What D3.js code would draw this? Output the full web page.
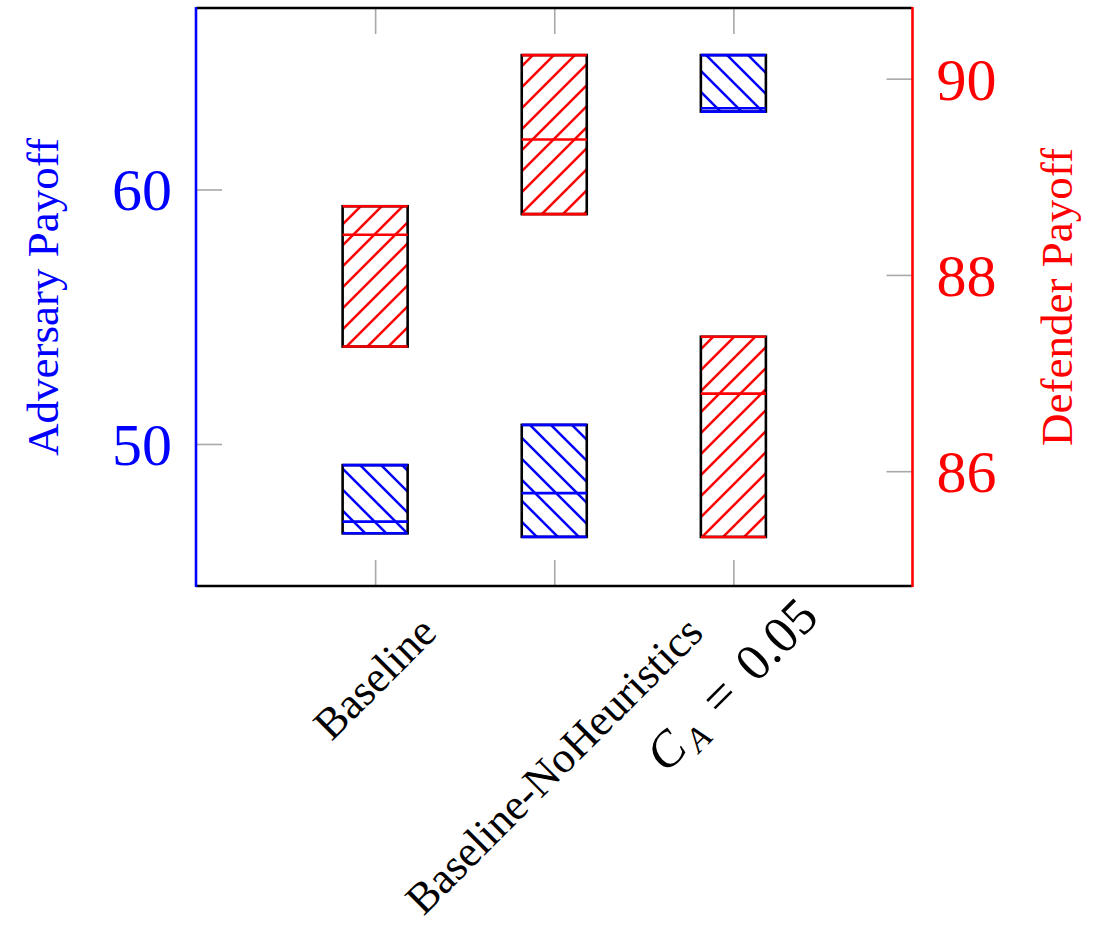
<!DOCTYPE html>
<html>
<head>
<meta charset="utf-8">
<script src="https://cdn.jsdelivr.net/npm/d3@7/dist/d3.min.js"></script>
<style>
  body { margin: 0; background: #fff; }
  svg { display: block; }
</style>
</head>
<body>
<svg id="chart" width="1102" height="928"></svg>
<script>
// Categories along the x axis
const categories = ["Baseline", "Baseline-NoHeuristics", "C_A = 0.05"];

// Adversary payoff boxes (left axis): lower edge, median, upper edge
const adversaryLow    = [46.49, 46.35, 63.06];
const adversaryMedian = [46.95, 48.07, 63.19];
const adversaryHigh   = [49.17, 50.75, 65.28];

// Defender payoff boxes (right axis): lower edge, median, upper edge
const defenderLow    = [87.27, 88.62, 85.33];
const defenderMedian = [88.41, 89.38, 86.79];
const defenderHigh   = [88.70, 90.24, 87.37];

// Axis ranges and tick labels
const adversaryDomain = [44.42, 67.13];
const defenderDomain  = [84.83, 90.72];
const adversaryTicks  = [50, 60];
const defenderTicks   = [86, 88, 90];

const BLUE = "#0000ff", RED = "#ff0000", TICK = "#a8a8a8";
const SERIF = "'Liberation Serif', 'Times New Roman', serif";

const svg = d3.select("#chart");
const plot = { left: 196, right: 912.5, top: 8, bottom: 586 };

const x = d3.scalePoint().domain(categories).range([plot.left, plot.right]).padding(1);
const yL = d3.scaleLinear().domain(adversaryDomain).range([plot.bottom, plot.top]);
const yR = d3.scaleLinear().domain(defenderDomain).range([plot.bottom, plot.top]);
const boxW = x.step() * 0.363;

// Hatch patterns anchored to the page
const defs = svg.append("defs");
const tile = 21;
function hatch(id, color, dir) {
  const p = defs.append("pattern").attr("id", id)
    .attr("patternUnits", "userSpaceOnUse")
    .attr("width", tile).attr("height", tile);
  p.append("rect").attr("width", tile).attr("height", tile).attr("fill", "#fff");
  const segs = dir === "ne"
    ? [[-2, tile + 2, tile + 2, -2], [-2, 2, 2, -2], [tile - 2, tile + 2, tile + 2, tile - 2]]
    : [[-2, -2, tile + 2, tile + 2], [tile - 2, -2, tile + 2, 2], [-2, tile - 2, 2, tile + 2]];
  segs.forEach(s => p.append("line")
    .attr("x1", s[0]).attr("y1", s[1]).attr("x2", s[2]).attr("y2", s[3])
    .attr("stroke", color).attr("stroke-width", 2.5));
}
hatch("hatch-red", RED, "ne");
hatch("hatch-blue", BLUE, "nw");

// Tick marks along top and bottom
const xTop = svg.append("g").attr("transform", `translate(0,${plot.top})`)
  .call(d3.axisTop(x).tickSize(-26).tickSizeOuter(0).tickFormat(""));
const xBot = svg.append("g").attr("transform", `translate(0,${plot.bottom})`)
  .call(d3.axisBottom(x).tickSize(-26).tickSizeOuter(0).tickFormat(""));
[xTop, xBot].forEach(g => {
  g.select(".domain").remove();
  g.selectAll(".tick line").attr("stroke", TICK).attr("stroke-width", 1.6);
});

// Left axis (adversary)
const axL = svg.append("g").attr("transform", `translate(${plot.left},0)`)
  .call(d3.axisLeft(yL).tickValues(adversaryTicks).tickFormat(d3.format("d"))
    .tickSize(-26).tickSizeOuter(0).tickPadding(24));
axL.select(".domain").remove();
axL.selectAll(".tick line").attr("stroke", TICK).attr("stroke-width", 1.6);
axL.selectAll(".tick text").attr("fill", BLUE).attr("font-family", SERIF)
  .attr("font-size", 60).attr("dy", "0.34em");

// Right axis (defender)
const axR = svg.append("g").attr("transform", `translate(${plot.right},0)`)
  .call(d3.axisRight(yR).tickValues(defenderTicks).tickFormat(d3.format("d"))
    .tickSize(-26).tickSizeOuter(0).tickPadding(24));
axR.select(".domain").remove();
axR.selectAll(".tick line").attr("stroke", TICK).attr("stroke-width", 1.6);
axR.selectAll(".tick text").attr("fill", RED).attr("font-family", SERIF)
  .attr("font-size", 60).attr("dy", "0.34em");

// Box drawing
function drawBoxes(cls, low, med, high, y, color, pattern) {
  const rows = categories.map((c, i) => ({ c, lo: low[i], md: med[i], hi: high[i] }));
  const g = svg.append("g").attr("class", cls);
  const b = g.selectAll("g").data(rows).join("g");
  b.append("rect")
    .attr("x", d => x(d.c) - boxW / 2).attr("width", boxW)
    .attr("y", d => y(d.hi)).attr("height", d => y(d.lo) - y(d.hi))
    .attr("fill", `url(#${pattern})`).attr("stroke", "#000").attr("stroke-width", 2.6);
  ["lo", "md", "hi"].forEach(k => b.append("line")
    .attr("x1", d => x(d.c) - boxW / 2).attr("x2", d => x(d.c) + boxW / 2)
    .attr("y1", d => y(d[k])).attr("y2", d => y(d[k]))
    .attr("stroke", color).attr("stroke-width", 2.6));
}
drawBoxes("adversary", adversaryLow, adversaryMedian, adversaryHigh, yL, BLUE, "hatch-blue");
drawBoxes("defender", defenderLow, defenderMedian, defenderHigh, yR, RED, "hatch-red");

// Frame
svg.append("line").attr("x1", plot.left).attr("x2", plot.right)
  .attr("y1", plot.top).attr("y2", plot.top).attr("stroke", "#000").attr("stroke-width", 2.4);
svg.append("line").attr("x1", plot.left).attr("x2", plot.right)
  .attr("y1", plot.bottom).attr("y2", plot.bottom).attr("stroke", "#000").attr("stroke-width", 2.4);
svg.append("line").attr("x1", plot.left).attr("x2", plot.left)
  .attr("y1", plot.top - 1).attr("y2", plot.bottom + 1).attr("stroke", BLUE).attr("stroke-width", 2.6);
svg.append("line").attr("x1", plot.right).attr("x2", plot.right)
  .attr("y1", plot.top - 1).attr("y2", plot.bottom + 1).attr("stroke", RED).attr("stroke-width", 2.6);

// Axis titles
const midY = (plot.top + plot.bottom) / 2;
svg.append("text").attr("transform", `translate(44,${midY}) rotate(-90)`)
  .attr("text-anchor", "middle").attr("dy", "0.3em")
  .attr("font-family", SERIF).attr("font-size", 45).attr("fill", BLUE)
  .text("Adversary Payoff");
svg.append("text").attr("transform", `translate(1058,${midY}) rotate(-90)`)
  .attr("text-anchor", "middle").attr("dy", "0.3em")
  .attr("font-family", SERIF).attr("font-size", 45).attr("fill", RED)
  .text("Defender Payoff");

// Rotated category labels
const labelTopY = 625;
categories.forEach(c => {
  const t = svg.append("text").attr("text-anchor", "middle").attr("dy", "0.32em")
    .attr("font-family", SERIF).attr("font-size", 44).attr("fill", "#000");
  if (c === "C_A = 0.05") {
    t.append("tspan").attr("font-style", "italic").attr("font-size", 50).text("C");
    t.append("tspan").attr("font-style", "italic").attr("font-size", 34).attr("dx", 4).attr("dy", 9).text("A");
    t.append("tspan").attr("dy", -9).attr("dx", 20).attr("font-size", 52).text("=");
    t.append("tspan").attr("dx", 20).attr("font-size", 52).text("0.05");
  } else {
    t.text(c);
  }
  const L = t.node().getComputedTextLength();
  const cy = labelTopY + (L / 2) * Math.SQRT1_2;
  t.attr("transform", `translate(${x(c)},${cy}) rotate(-45)`);
});
</script>
</body>
</html>
